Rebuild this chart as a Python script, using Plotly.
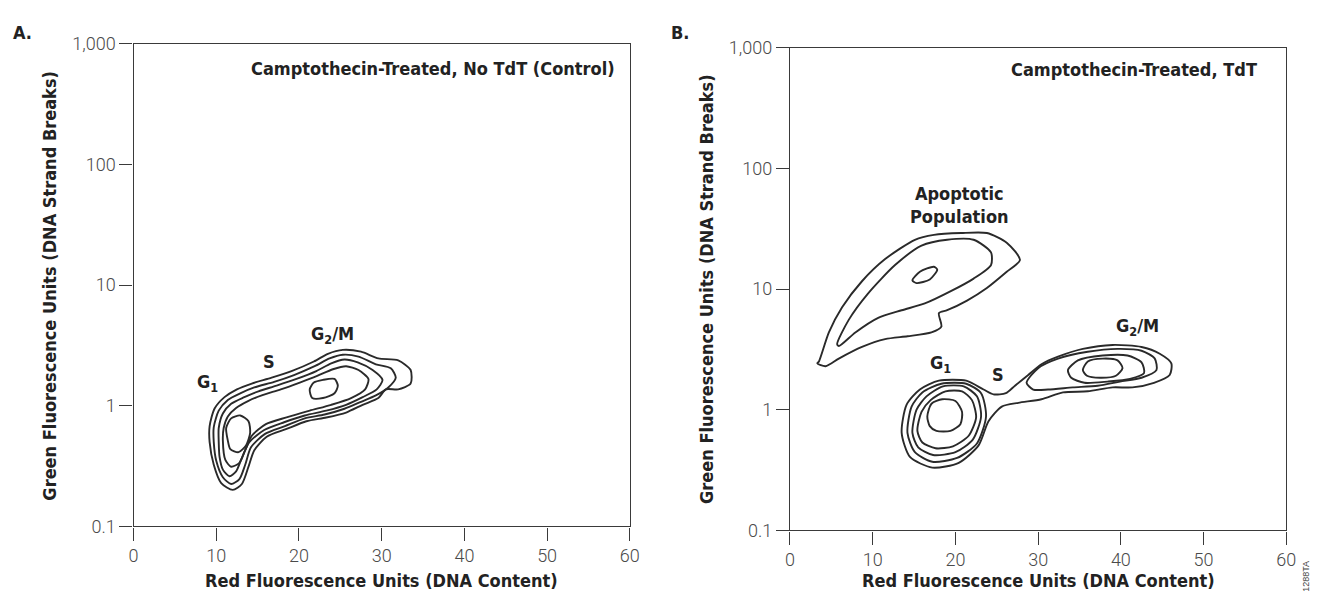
import math
import plotly.graph_objects as go

# ---------------- Panel A: Camptothecin-treated, no TdT (control) ----------------
A_ring1_x = [9.2, 9.2, 9.8, 11.0, 12.5, 14.3, 16.7, 19.1, 21.8, 23.5, 25.3, 27.5, 29.6, 32.0, 33.5, 33.5, 32.0, 30.5, 29.6, 27.7, 25.7, 23.3, 20.9, 18.5, 16.1, 14.6, 13.9, 13.1, 12.0, 10.6, 9.7]
A_ring1_y = [0.50, 0.68, 0.95, 1.18, 1.37, 1.53, 1.71, 1.94, 2.33, 2.70, 2.91, 2.81, 2.47, 2.38, 1.98, 1.53, 1.37, 1.37, 1.16, 1.02, 0.88, 0.80, 0.745, 0.643, 0.555, 0.429, 0.313, 0.225, 0.201, 0.229, 0.325]

A_ring2_x = [9.7, 9.7, 10.3, 11.4, 12.9, 14.6, 17.0, 19.4, 21.9, 23.7, 25.3, 27.2, 29.3, 31.1, 31.7, 30.8, 29.3, 27.5, 25.5, 23.1, 20.7, 18.3, 15.9, 14.2, 13.5, 12.8, 11.8, 10.8, 10.0]
A_ring2_y = [0.50, 0.667, 0.912, 1.12, 1.27, 1.42, 1.58, 1.80, 2.13, 2.47, 2.65, 2.56, 2.21, 2.05, 1.71, 1.42, 1.22, 1.08, 0.946, 0.847, 0.787, 0.679, 0.586, 0.453, 0.325, 0.247, 0.225, 0.256, 0.350]

A_ring3_x = [10.3, 10.3, 10.8, 11.8, 13.4, 15.1, 17.3, 19.7, 22.1, 23.9, 25.5, 27.1, 28.9, 30.1, 29.4, 27.7, 25.7, 23.3, 20.7, 18.2, 15.8, 14.0, 13.1, 12.4, 11.6, 10.8, 10.4]
A_ring3_y = [0.50, 0.655, 0.863, 1.04, 1.18, 1.32, 1.47, 1.67, 1.94, 2.25, 2.42, 2.29, 1.98, 1.64, 1.37, 1.18, 1.02, 0.912, 0.832, 0.731, 0.631, 0.50, 0.370, 0.286, 0.261, 0.296, 0.377]

A_ring4_x = [10.8, 10.9, 11.4, 12.4, 13.9, 15.5, 17.8, 20.1, 22.2, 24.1, 25.7, 27.2, 28.4, 28.0, 26.3, 23.9, 21.3, 18.5, 16.0, 14.3, 13.5, 12.8, 11.8, 11.1]
A_ring4_y = [0.515, 0.655, 0.817, 0.96, 1.10, 1.22, 1.37, 1.56, 1.77, 2.01, 2.13, 1.98, 1.67, 1.37, 1.16, 1.02, 0.912, 0.802, 0.705, 0.565, 0.429, 0.337, 0.313, 0.356]

A_g1core_x = [11.4, 11.2, 11.8, 12.9, 13.9, 14.1, 13.6, 12.7, 11.7]
A_g1core_y = [0.515, 0.655, 0.787, 0.832, 0.745, 0.597, 0.470, 0.413, 0.437]

A_g2core_x = [21.3, 21.8, 22.9, 24.3, 24.7, 24.3, 22.9, 21.6]
A_g2core_y = [1.37, 1.56, 1.64, 1.67, 1.47, 1.27, 1.16, 1.16]

# ---------------- Panel B: Camptothecin-treated, TdT ----------------
B_apo1_x = [3.5, 4.7, 6.3, 8.7, 11.5, 15.1, 17.4, 20.7, 23.8, 26.2, 27.8, 26.2, 23.8, 21.4, 19.0, 18.0, 18.3, 17.1, 14.2, 11.5, 8.7, 5.9, 4.3, 3.3]
B_apo1_y = [2.51, 4.37, 7.05, 11.6, 17.7, 25.6, 28.1, 29.1, 29.1, 24.2, 17.4, 13.9, 10.2, 8.02, 6.67, 6.31, 4.88, 4.37, 4.06, 3.84, 3.31, 2.65, 2.29, 2.42]

B_apo2_x = [5.7, 7.1, 9.4, 12.7, 15.9, 19.0, 22.2, 24.3, 24.3, 22.2, 19.5, 16.3, 13.5, 10.6, 7.9, 5.9]
B_apo2_y = [3.50, 5.55, 9.12, 15.8, 22.9, 25.6, 25.6, 20.1, 15.8, 12.2, 9.64, 7.59, 6.67, 5.75, 4.37, 3.37]

B_apocore_x = [14.8, 15.7, 17.4, 17.8, 16.9, 15.3]
B_apocore_y = [11.8, 13.9, 15.3, 14.5, 12.0, 11.2]

B_outer_x = [13.5, 14.1, 15.7, 18.0, 21.3, 23.4, 24.6, 26.1, 27.2, 28.8, 30.4, 32.4, 35.4, 39.0, 42.5, 44.7, 46.1, 45.9, 44.0, 41.4, 39.0, 36.0, 33.0, 30.4, 27.6, 25.6, 24.0, 22.8, 20.4, 17.2, 14.5]
B_outer_y = [0.643, 1.10, 1.47, 1.74, 1.74, 1.47, 1.34, 1.37, 1.58, 1.94, 2.38, 2.75, 3.19, 3.44, 3.31, 2.91, 2.42, 1.94, 1.67, 1.53, 1.53, 1.42, 1.39, 1.22, 1.14, 1.06, 0.802, 0.506, 0.363, 0.331, 0.406]

B_g1r2_x = [14.2, 14.7, 16.0, 18.3, 21.3, 23.1, 23.7, 22.6, 20.2, 17.2, 15.1]
B_g1r2_y = [0.643, 1.06, 1.39, 1.64, 1.64, 1.37, 0.879, 0.525, 0.398, 0.370, 0.445]

B_g1r3_x = [14.8, 15.3, 16.5, 18.5, 21.0, 22.6, 23.1, 22.1, 20.0, 17.3, 15.5]
B_g1r3_y = [0.643, 1.0, 1.29, 1.56, 1.56, 1.29, 0.879, 0.565, 0.445, 0.421, 0.488]

B_g1r4_x = [15.4, 15.9, 17.0, 18.8, 20.8, 22.0, 22.5, 21.6, 19.7, 17.6, 16.0]
B_g1r4_y = [0.667, 0.96, 1.20, 1.42, 1.42, 1.20, 0.863, 0.608, 0.497, 0.479, 0.535]

B_g1core_x = [16.6, 17.1, 18.4, 20.0, 20.8, 20.6, 19.4, 17.7, 16.9]
B_g1core_y = [0.879, 1.12, 1.22, 1.18, 0.96, 0.759, 0.667, 0.667, 0.731]

B_g2a_x = [28.6, 30.0, 32.4, 36.0, 39.6, 42.5, 44.1, 44.3, 42.5, 39.9, 37.2, 34.2, 31.2, 29.4]
B_g2a_y = [1.67, 2.21, 2.65, 3.02, 3.19, 3.08, 2.65, 2.13, 1.84, 1.71, 1.58, 1.53, 1.47, 1.47]

B_g2b_x = [33.6, 34.8, 37.8, 40.8, 42.5, 42.8, 41.1, 38.4, 35.6, 34.0]
B_g2b_y = [2.13, 2.56, 2.81, 2.81, 2.47, 2.01, 1.80, 1.71, 1.67, 1.84]

B_g2core_x = [35.4, 36.0, 37.8, 39.6, 40.2, 39.4, 37.5, 35.9]
B_g2core_y = [2.13, 2.51, 2.65, 2.56, 2.21, 1.91, 1.84, 1.91]

# ---------------- Axes / labels ----------------
x_ticks = [0, 10, 20, 30, 40, 50, 60]
y_ticks = [0.1, 1, 10, 100, 1000]
y_ticktext = ["0.1", "1", "10", "100", "1,000"]

panel_titles = ["Camptothecin-Treated, No TdT (Control)", "Camptothecin-Treated, TdT"]
x_title = "Red Fluorescence Units (DNA Content)"
y_title = "Green Fluorescence Units (DNA Strand Breaks)"

A_labels = [("G<sub>1</sub>", 9.0, 1.56), ("S", 16.4, 2.33), ("G<sub>2</sub>/M", 24.0, 3.84)]
B_labels = [("Apoptotic<br>Population", 20.5, 50.0), ("G<sub>1</sub>", 18.2, 2.38),
            ("S", 25.2, 1.94), ("G<sub>2</sub>/M", 42.0, 4.88)]

BOLD = "Liberation Sans Narrow, DejaVu Sans Condensed, Roboto, sans-serif"
LIGHT = "Roboto, Lato, Liberation Sans, sans-serif"
LINE_C = "#2a2a2a"
AXIS_C = "#3a3a3a"

fig = go.Figure()

def add_ring(xs, ys, xa, ya):
    fig.add_trace(go.Scatter(
        x=list(xs) + [xs[0]], y=list(ys) + [ys[0]],
        mode="lines", line=dict(color=LINE_C, width=1.9, shape="spline", smoothing=0.7),
        xaxis=xa, yaxis=ya, showlegend=False, hoverinfo="skip"))

for xs, ys in [(A_ring1_x, A_ring1_y), (A_ring2_x, A_ring2_y), (A_ring3_x, A_ring3_y),
               (A_ring4_x, A_ring4_y), (A_g1core_x, A_g1core_y), (A_g2core_x, A_g2core_y)]:
    add_ring(xs, ys, "x", "y")

for xs, ys in [(B_apo1_x, B_apo1_y), (B_apo2_x, B_apo2_y), (B_apocore_x, B_apocore_y),
               (B_outer_x, B_outer_y), (B_g1r2_x, B_g1r2_y), (B_g1r3_x, B_g1r3_y),
               (B_g1r4_x, B_g1r4_y), (B_g1core_x, B_g1core_y), (B_g2a_x, B_g2a_y),
               (B_g2b_x, B_g2b_y), (B_g2core_x, B_g2core_y)]:
    add_ring(xs, ys, "x2", "y2")

W, H = 1323, 606
axis_common = dict(showline=True, mirror=True, linecolor=AXIS_C, linewidth=1.3,
                   ticks="outside", ticklen=13, tickwidth=1.3, tickcolor=AXIS_C,
                   showgrid=False, zeroline=False, fixedrange=True,
                   tickfont=dict(family=LIGHT, size=18, color="#4a4a4a", weight=300))

xcommon = dict(axis_common, range=[0, 60], tickvals=x_ticks)
ycommon = dict(axis_common, type="log", range=[-1, 3], tickvals=y_ticks, ticktext=y_ticktext)

fig.update_layout(
    width=W, height=H, autosize=False,
    margin=dict(l=0, r=0, t=0, b=0),
    paper_bgcolor="white", plot_bgcolor="white",
    xaxis=dict(xcommon, domain=[130 / W, 632 / W], anchor="y"),
    yaxis=dict(ycommon, domain=[(H - 534) / H, (H - 34) / H], anchor="x"),
    xaxis2=dict(xcommon, domain=[794 / W, 1296 / W], anchor="y2"),
    yaxis2=dict(ycommon, domain=[(H - 538) / H, (H - 38) / H], anchor="x2"),
)

ann = []
bold_font = dict(family=BOLD, size=18, color="#222222")
ann.append(dict(text="<b>A.</b>", x=18 / W, y=1 - 22 / H, xref="paper", yref="paper",
                showarrow=False, font=bold_font, xanchor="center", yanchor="middle"))
ann.append(dict(text="<b>B.</b>", x=683 / W, y=1 - 22 / H, xref="paper", yref="paper",
                showarrow=False, font=bold_font, xanchor="center", yanchor="middle"))
ann.append(dict(text="<b>" + panel_titles[0] + "</b>", x=0.974, y=0.948, xref="x domain", yref="y domain",
                showarrow=False, font=bold_font, xanchor="right", yanchor="middle"))
ann.append(dict(text="<b>" + panel_titles[1] + "</b>", x=0.944, y=0.954, xref="x2 domain", yref="y2 domain",
                showarrow=False, font=bold_font, xanchor="right", yanchor="middle"))
for xr, yr, ytx in [("x", "y", 45), ("x2", "y2", 709)]:
    ann.append(dict(text="<b>" + x_title + "</b>", x=0.5, y=1 - 590 / H, xref=xr + " domain", yref="paper",
                    showarrow=False, font=bold_font, xanchor="center", yanchor="middle"))
    ann.append(dict(text="<b>" + y_title + "</b>", x=ytx / W, y=0.5, xref="paper", yref=yr + " domain",
                    showarrow=False, font=bold_font, textangle=-90, xanchor="center", yanchor="middle"))
for txt, xv, yv in A_labels:
    ann.append(dict(text="<b>" + txt + "</b>", x=xv, y=math.log10(yv), xref="x", yref="y",
                    showarrow=False, font=bold_font, xanchor="center", yanchor="middle"))
for txt, xv, yv in B_labels:
    ann.append(dict(text="<b>" + txt + "</b>", x=xv, y=math.log10(yv), xref="x2", yref="y2",
                    showarrow=False, font=bold_font, xanchor="center", yanchor="middle"))
ann.append(dict(text="1288TA", x=1316 / W, y=1 - 586 / H, xref="paper", yref="paper",
                showarrow=False, font=dict(family="Liberation Sans, sans-serif", size=9, color="#444"),
                textangle=-90, xanchor="center", yanchor="middle"))

fig.update_layout(annotations=ann)
fig.write_html("out.html", config={"displayModeBar": False},
               post_script="document.body.style.margin='0px';")
